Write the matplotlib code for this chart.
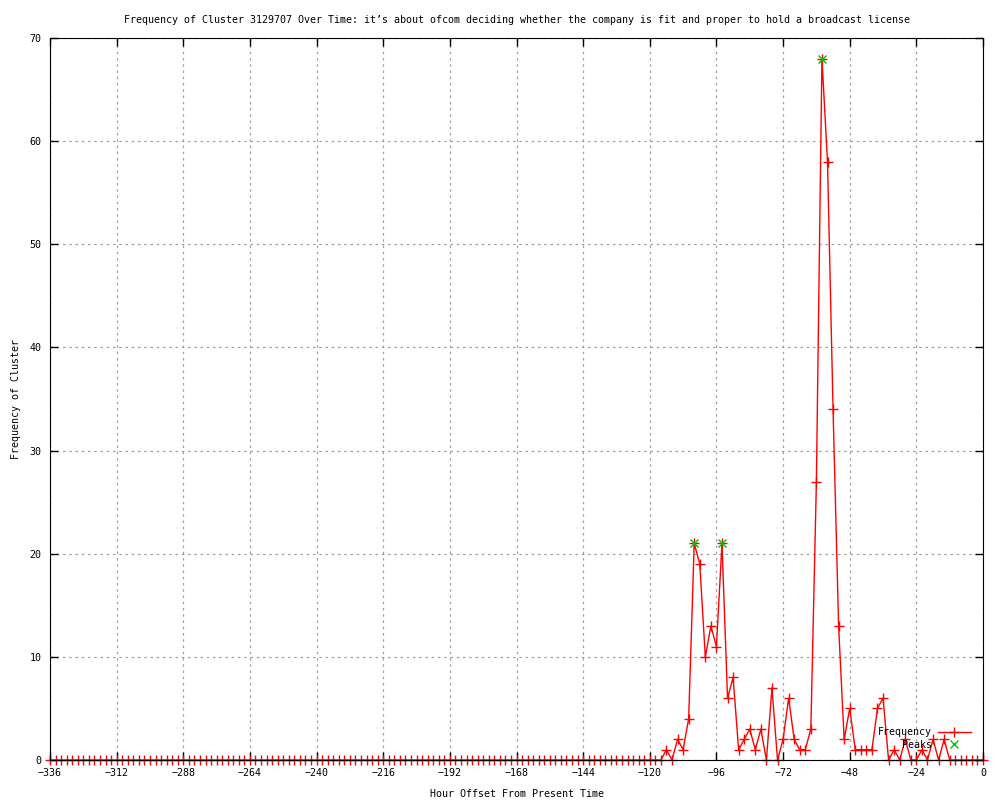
import numpy as np
from matplotlib import pyplot as plt

# hours before now, every 2 hours
hours = np.arange(-336, 1, 2)
early_zeros = [0] * 108  # -336 .. -122, nothing there
recent = [0, 0, 0, 1, 0, 2, 1, 4, 21, 19,      # -120 .. -102
          10, 13, 11, 21, 6, 8, 1, 2, 3, 1,    # -100 .. -82
          3, 0, 7, 0, 2, 6, 2, 1, 1, 3,        # -80 .. -62
          27, 68, 58, 34, 13, 2, 5, 1, 1, 1,   # -60 .. -42
          1, 5, 6, 0, 1, 0, 2, 0, 0, 1,        # -40 .. -22
          0, 2, 0, 2, 0, 0, 0, 0, 0, 0, 0]     # -20 .. 0
freq = early_zeros + recent

peak_hours = [-104, -94, -58]
peak_vals = [21, 21, 68]

titulo = "Frequency of Cluster 3129707 Over Time: it\u2019s about ofcom deciding whether the company is fit and proper to hold a broadcast license"

plt.rcParams['font.family'] = ['DejaVu Sans Mono']
plt.rcParams['font.size'] = 7.2

fig = plt.figure(figsize=(10, 8), dpi=100)
ax = fig.add_axes([0.05, 0.05, 0.933, 0.9025])

ax.plot(hours, freq, color='red', lw=1, marker='+', ms=7, mew=1,
        label='Frequency', clip_on=False, zorder=3)
ax.plot(peak_hours, peak_vals, ls='none', color='#00c000', marker='x', ms=6, mew=1,
        label='Peaks', zorder=4)

ax.set_xlim(-336, 0)
ax.set_ylim(0, 70)
ax.set_xticks(range(-336, 1, 24))
ax.set_yticks(range(0, 71, 10))
ax.tick_params(direction='in', top=True, right=True, length=6, width=1, pad=6)
ax.grid(True, color='#a0a0a0', linestyle=(0, (2, 3)), lw=0.9)
for s in ax.spines.values():
    s.set_color('black')
    s.set_zorder(5)

ax.set_title(titulo, pad=11, fontsize=7.2)
ax.set_xlabel('Hour Offset From Present Time', labelpad=8)
ax.set_ylabel('Frequency of Cluster', labelpad=6)

ax.legend(loc='upper right', bbox_to_anchor=(0.992, 0.052), frameon=False,
          markerfirst=False, handlelength=3.3, labelspacing=0.25,
          borderpad=0, handletextpad=0.6)

plt.savefig('out.png', dpi=100)
